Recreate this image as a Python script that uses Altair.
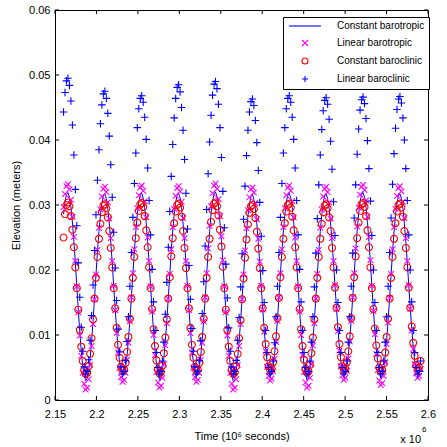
import altair as alt
import pandas as pd

FONT = "Liberation Sans"

# Output times: every 1780 s from t = 2.1603e6 s (axis in units of 10^6 s)
t_start = 2.1603
t_step = 0.00178

# Surface elevation at the station, in millimetres
const_barotropic_mm = [
    28.6, 30.5, 31.6, 31.9, 31.2, 29.7, 27.4, 24.4, 21.1, 17.5, 13.8, 10.5, 7.6, 5.2, 3.7, 3.0, 3.3, 4.4, 6.4, 9.0, 12.1, 15.7, 19.3, 22.8, 25.9,
    28.4, 30.3, 31.4, 31.7, 31.0, 29.5, 27.2, 24.3, 21.1, 17.5, 14.0, 10.8, 7.9, 5.7, 4.3, 3.6, 3.9, 4.9, 6.8, 9.3, 12.3, 15.8, 19.4, 22.9, 26.0,
    28.5, 30.4, 31.5, 31.8, 31.1, 29.6, 27.3, 24.4, 21.1, 17.5, 13.9, 10.6, 7.7, 5.4, 3.9, 3.1, 3.4, 4.6, 6.5, 9.1, 12.2, 15.7, 19.3, 22.9, 26.0,
    28.5, 30.4, 31.5, 31.8, 31.1, 29.6, 27.2, 24.3, 21.0, 17.5, 14.0, 10.8, 7.9, 5.7, 4.3, 3.6, 3.9, 4.9, 6.8, 9.3, 12.3, 15.7, 19.3, 22.8, 25.9,
    28.7, 30.6, 31.7, 32.0, 31.3, 29.8, 27.4, 24.5, 21.2, 17.5, 13.8, 10.5, 7.6, 5.2, 3.7, 3.0, 3.3, 4.4, 6.4, 9.0, 12.1, 15.6, 19.2, 22.7, 25.8,
    28.3, 30.2, 31.3, 31.6, 30.9, 29.4, 27.1, 24.2, 21.0, 17.5, 14.0, 10.9, 8.0, 5.8, 4.4, 3.7, 4.0, 5.0, 6.9, 9.4, 12.4, 15.8, 19.4, 22.9, 26.0,
    28.5, 30.4, 31.5, 31.8, 31.1, 29.6, 27.3, 24.4, 21.1, 17.5, 13.9, 10.6, 7.7, 5.4, 3.9, 3.1, 3.4, 4.6, 6.5, 9.1, 12.2, 15.7, 19.3, 22.8, 25.9,
    28.4, 30.3, 31.4, 31.7, 31.0, 29.5, 27.2, 24.3, 21.1, 17.6, 14.1, 10.9, 8.0, 5.8, 4.4, 3.7, 4.0, 5.0, 6.9, 9.4, 12.4, 15.8, 19.4, 22.9, 26.0,
    28.6, 30.5, 31.6, 31.9, 31.2, 29.7, 27.3, 24.4, 21.1, 17.5, 13.9, 10.7, 7.8, 5.6, 4.1, 3.4, 3.7, 4.8, 6.7, 9.2, 12.3, 15.7, 19.3, 22.8, 25.9,
    28.4, 30.3, 31.4, 31.7, 31.0, 29.5, 27.2, 24.3, 21.1, 17.6, 14.1, 11.0, 8.2, 6.0, 4.6, 3.9, 4.2, 5.2,
]

linear_barotropic_mm = [
    29.7, 31.7, 32.9, 33.2, 32.4, 30.8, 28.2, 25.1, 21.4, 17.5, 13.5, 9.9, 6.8, 4.2, 2.5, 1.6, 1.9, 3.2, 5.4, 8.3, 11.7, 15.5, 19.3, 23.1, 26.5,
    29.3, 31.3, 32.5, 32.8, 32.0, 30.4, 27.9, 24.9, 21.4, 17.6, 13.8, 10.3, 7.3, 4.9, 3.5, 2.8, 3.1, 4.2, 6.2, 8.8, 12.1, 15.8, 19.5, 23.2, 26.6,
    29.5, 31.5, 32.7, 33.0, 32.2, 30.6, 28.1, 25.0, 21.4, 17.5, 13.6, 10.0, 6.9, 4.3, 2.7, 1.9, 2.2, 3.4, 5.5, 8.4, 11.8, 15.6, 19.4, 23.2, 26.6,
    29.4, 31.4, 32.6, 32.9, 32.1, 30.5, 28.0, 24.9, 21.4, 17.6, 13.8, 10.3, 7.3, 4.9, 3.5, 2.8, 3.1, 4.2, 6.2, 8.8, 12.1, 15.8, 19.5, 23.3, 26.8,
    29.8, 31.8, 33.0, 33.3, 32.5, 30.9, 28.3, 25.2, 21.5, 17.5, 13.5, 9.9, 6.8, 4.2, 2.5, 1.6, 1.9, 3.2, 5.4, 8.3, 11.7, 15.5, 19.3, 23.0, 26.4,
    29.2, 31.2, 32.4, 32.7, 31.9, 30.3, 27.8, 24.8, 21.3, 17.6, 13.9, 10.5, 7.5, 5.1, 3.7, 3.0, 3.3, 4.4, 6.3, 8.9, 12.2, 15.8, 19.5, 23.2, 26.6,
    29.5, 31.5, 32.7, 33.0, 32.2, 30.6, 28.1, 25.0, 21.4, 17.5, 13.6, 10.0, 6.9, 4.3, 2.7, 1.9, 2.2, 3.4, 5.5, 8.4, 11.8, 15.6, 19.4, 23.1, 26.5,
    29.3, 31.3, 32.5, 32.8, 32.0, 30.4, 27.9, 24.9, 21.4, 17.7, 14.0, 10.6, 7.6, 5.2, 3.8, 3.1, 3.4, 4.5, 6.4, 9.0, 12.2, 15.8, 19.5, 23.3, 26.7,
    29.6, 31.6, 32.8, 33.1, 32.3, 30.7, 28.2, 25.1, 21.5, 17.6, 13.7, 10.1, 7.1, 4.6, 3.0, 2.3, 2.6, 3.7, 5.8, 8.6, 11.9, 15.7, 19.4, 23.2, 26.6,
    29.4, 31.4, 32.6, 32.9, 32.1, 30.5, 28.0, 24.9, 21.4, 17.7, 14.0, 10.7, 7.8, 5.5, 4.1, 3.4, 3.7, 4.8,
]

const_baroclinic_mm = [
    25.0, 28.6, 30.0, 30.4, 29.8, 28.3, 26.2, 23.5, 20.4, 17.2, 13.9, 10.8, 8.2, 6.0, 4.6, 4.0, 4.2, 5.2, 7.1, 9.5, 12.4, 15.6, 18.8, 22.0, 24.8,
    27.1, 28.9, 29.9, 30.1, 29.5, 28.1, 26.0, 23.4, 20.4, 17.2, 14.1, 11.1, 8.5, 6.5, 5.1, 4.5, 4.7, 5.7, 7.4, 9.7, 12.5, 15.6, 18.8, 22.0, 24.9,
    27.3, 29.1, 30.1, 30.3, 29.7, 28.3, 26.1, 23.5, 20.4, 17.2, 14.0, 10.9, 8.3, 6.1, 4.7, 4.1, 4.3, 5.3, 7.2, 9.6, 12.4, 15.6, 18.9, 22.1, 24.9,
    27.2, 29.0, 30.0, 30.2, 29.6, 28.2, 26.0, 23.4, 20.3, 17.2, 14.1, 11.1, 8.5, 6.5, 5.1, 4.5, 4.7, 5.7, 7.4, 9.7, 12.5, 15.6, 18.8, 22.0, 24.8,
    27.4, 29.2, 30.2, 30.4, 29.8, 28.4, 26.2, 23.6, 20.5, 17.2, 13.9, 10.8, 8.2, 6.0, 4.6, 4.0, 4.2, 5.2, 7.1, 9.5, 12.3, 15.5, 18.7, 21.9, 24.7,
    27.0, 28.8, 29.8, 30.0, 29.4, 28.0, 25.9, 23.3, 20.3, 17.2, 14.1, 11.1, 8.6, 6.6, 5.2, 4.6, 4.8, 5.8, 7.5, 9.8, 12.6, 15.7, 18.9, 22.0, 24.8,
    27.2, 29.0, 30.0, 30.2, 29.6, 28.2, 26.1, 23.5, 20.4, 17.2, 14.0, 10.9, 8.3, 6.2, 4.8, 4.2, 4.4, 5.4, 7.2, 9.6, 12.4, 15.6, 18.8, 22.0, 24.8,
    27.1, 28.9, 29.9, 30.1, 29.5, 28.1, 26.0, 23.4, 20.4, 17.3, 14.2, 11.2, 8.6, 6.6, 5.2, 4.6, 4.8, 5.8, 7.5, 9.8, 12.6, 15.7, 18.9, 22.1, 24.9,
    27.3, 29.1, 30.1, 30.3, 29.7, 28.3, 26.1, 23.5, 20.4, 17.2, 14.0, 11.0, 8.4, 6.4, 5.0, 4.4, 4.6, 5.6, 7.3, 9.7, 12.5, 15.6, 18.8, 22.0, 24.8,
    27.2, 29.0, 30.0, 30.2, 29.6, 28.2, 26.0, 23.4, 20.4, 17.3, 14.2, 11.3, 8.8, 6.8, 5.4, 4.8, 5.0, 6.0,
]

linear_baroclinic_mm = [
    44.3, 47.3, 49.1, 49.5, 48.4, 46.0, 42.3, 37.7, 32.4, 26.8, 21.1, 15.8, 11.2, 7.5, 5.1, 4.0, 4.4, 6.2, 9.2, 13.0, 17.7, 23.0, 28.5, 33.8, 38.5,
    42.5, 45.4, 47.1, 47.5, 46.4, 44.1, 40.6, 36.2, 31.2, 25.8, 20.3, 15.3, 10.9, 7.4, 5.1, 4.0, 4.4, 6.1, 9.0, 12.8, 17.5, 22.7, 28.1, 33.3, 38.0,
    41.9, 44.8, 46.4, 46.8, 45.8, 43.5, 40.1, 35.7, 30.7, 25.4, 20.1, 15.1, 10.7, 7.3, 5.0, 4.0, 4.4, 6.0, 8.9, 13.2, 18.1, 23.5, 29.0, 34.4, 39.3,
    43.4, 46.4, 48.1, 48.5, 47.4, 45.0, 41.5, 37.0, 31.8, 26.3, 20.7, 15.5, 11.0, 7.5, 5.1, 4.0, 4.4, 6.1, 9.1, 13.3, 18.2, 23.7, 29.3, 34.8, 39.7,
    43.8, 46.9, 48.6, 49.0, 47.9, 45.5, 41.9, 37.3, 32.1, 26.5, 20.9, 15.7, 11.1, 7.5, 5.1, 4.0, 4.4, 6.1, 9.2, 12.7, 17.4, 22.5, 27.8, 32.9, 37.6,
    41.5, 44.3, 45.9, 46.3, 45.3, 43.0, 39.6, 35.3, 30.4, 25.2, 19.9, 15.0, 10.7, 7.3, 5.0, 4.0, 4.4, 6.0, 8.8, 12.8, 17.5, 22.7, 28.1, 33.3, 38.0,
    41.9, 44.8, 46.4, 46.8, 45.8, 43.5, 40.1, 35.7, 30.7, 25.4, 20.1, 15.1, 10.7, 7.3, 5.0, 4.0, 4.4, 6.0, 8.9, 12.8, 17.4, 22.6, 27.9, 33.1, 37.7,
    41.6, 44.5, 46.1, 46.5, 45.5, 43.2, 39.8, 35.5, 30.5, 25.3, 20.0, 15.0, 10.7, 7.3, 5.0, 4.0, 4.4, 6.0, 8.9, 12.8, 17.5, 22.6, 28.0, 33.1, 37.8,
    41.7, 44.6, 46.2, 46.6, 45.6, 43.3, 39.9, 35.6, 30.6, 25.3, 20.0, 15.0, 10.7, 7.3, 5.0, 4.0, 4.4, 6.0, 8.9, 12.8, 17.5, 22.7, 28.0, 33.2, 37.9,
    41.8, 44.7, 46.3, 46.7, 45.7, 43.4, 40.0, 35.6, 30.7, 25.4, 20.0, 15.1, 10.7, 7.3, 5.0, 4.0, 4.4, 6.0,
]

series_names = ["Constant barotropic", "Linear barotropic", "Constant baroclinic", "Linear baroclinic"]
series_colors = ["#0000ff", "#ff00ff", "#ff0000", "#0000ff"]
# legend / marker glyphs: line, x, circle, plus
series_shapes = ["M-5.3,0L5.3,0", "M-1,-1L1,1M-1,1L1,-1", "circle", "M-1,0L1,0M0,-1L0,1"]

x_ticks = [2.15, 2.2, 2.25, 2.3, 2.35, 2.4, 2.45, 2.5, 2.55, 2.6]
y_ticks = [0, 0.01, 0.02, 0.03, 0.04, 0.05, 0.06]
exponent_base = "x 10"
exponent_power = "6"

n = len(const_barotropic_mm)
time = [round(t_start + i * t_step, 5) for i in range(n)]

frames = []
for name, vals in zip(series_names, [const_barotropic_mm, linear_barotropic_mm,
                                      const_baroclinic_mm, linear_baroclinic_mm]):
    frames.append(pd.DataFrame({"time": time, "elev": [v / 1000 for v in vals], "series": name}))
df = pd.concat(frames, ignore_index=True)

W, H = 373, 390
xscale = alt.Scale(domain=[2.15, 2.6], nice=False, zero=False)
yscale = alt.Scale(domain=[0, 0.06], nice=False, zero=False)
color_scale = alt.Scale(domain=series_names, range=series_colors)
shape_scale = alt.Scale(domain=series_names, range=series_shapes)

common_axis = dict(labelFont=FONT, titleFont=FONT, labelFontSize=11, titleFontSize=11,
                   titleFontWeight="normal", labelColor="black", titleColor="black",
                   domain=False, ticks=False, tickSize=0, grid=False,
                   labelFlush=False, labelOverlap=False)
x_axis = alt.Axis(values=x_ticks, format=".2~f", title="Time (10⁶ seconds)",
                  labelPadding=8, titlePadding=11, **common_axis)
y_axis = alt.Axis(values=y_ticks, format=".2~f", title="Elevation (meters)",
                  labelPadding=5, titlePadding=7, **common_axis)

legend = alt.Legend(title=None, orient="none", legendX=228, legendY=7,
                    fillColor="white", strokeColor="black", padding=4,
                    symbolOffset=13, labelOffset=27, rowPadding=6,
                    labelFont=FONT, labelFontSize=10, labelColor="black",
                    symbolSize=36, symbolStrokeWidth=1.1, cornerRadius=0)

X = alt.X("time:Q", scale=xscale, axis=x_axis)
Y = alt.Y("elev:Q", scale=yscale, axis=y_axis)

line = alt.Chart(df).transform_filter(
    alt.datum.series == series_names[0]
).mark_line(strokeWidth=1, color=series_colors[0]).encode(x=X, y=Y)

def marker_layer(name, size):
    return alt.Chart(df).transform_filter(alt.datum.series == name).mark_point(
        filled=False, size=size, strokeWidth=1.1, opacity=1
    ).encode(
        x=X, y=Y,
        color=alt.Color("series:N", scale=color_scale, legend=legend),
        shape=alt.Shape("series:N", scale=shape_scale, legend=legend),
    )

lin_barotropic = marker_layer(series_names[1], 32)
const_baroclinic = marker_layer(series_names[2], 48)
lin_baroclinic = marker_layer(series_names[3], 56)

# inward MATLAB-style ticks on all four sides of the box
xt = pd.DataFrame({"time": x_ticks})
yt = pd.DataFrame({"elev": y_ticks})
ticks_bottom = alt.Chart(xt).mark_rule(color="black", strokeWidth=1).encode(
    x=X, y=alt.value(H), y2=alt.value(H - 4))
ticks_top = alt.Chart(xt).mark_rule(color="black", strokeWidth=1).encode(
    x=X, y=alt.value(0), y2=alt.value(4))
ticks_left = alt.Chart(yt).mark_rule(color="black", strokeWidth=1).encode(
    y=Y, x=alt.value(0), x2=alt.value(4))
ticks_right = alt.Chart(yt).mark_rule(color="black", strokeWidth=1).encode(
    y=Y, x=alt.value(W), x2=alt.value(W - 4))

exp_base = alt.Chart(pd.DataFrame({"t": [exponent_base]})).mark_text(
    align="right", baseline="alphabetic", font=FONT, fontSize=11, color="black"
).encode(text="t:N", x=alt.value(W - 7), y=alt.value(H + 43))
exp_power = alt.Chart(pd.DataFrame({"t": [exponent_power]})).mark_text(
    align="left", baseline="alphabetic", font=FONT, fontSize=8, color="black"
).encode(text="t:N", x=alt.value(W - 6), y=alt.value(H + 32))

chart = alt.layer(
    line, lin_barotropic, const_baroclinic, lin_baroclinic,
    ticks_bottom, ticks_top, ticks_left, ticks_right, exp_base, exp_power,
).properties(
    width=W, height=H,
    autosize=alt.AutoSizeParams(type="none"),
    padding={"left": 55, "top": 10, "right": 19, "bottom": 47},
    background="white",
).configure_view(stroke="black", strokeWidth=1)

chart.save("out.html", embed_options={"renderer": "svg", "actions": False})
